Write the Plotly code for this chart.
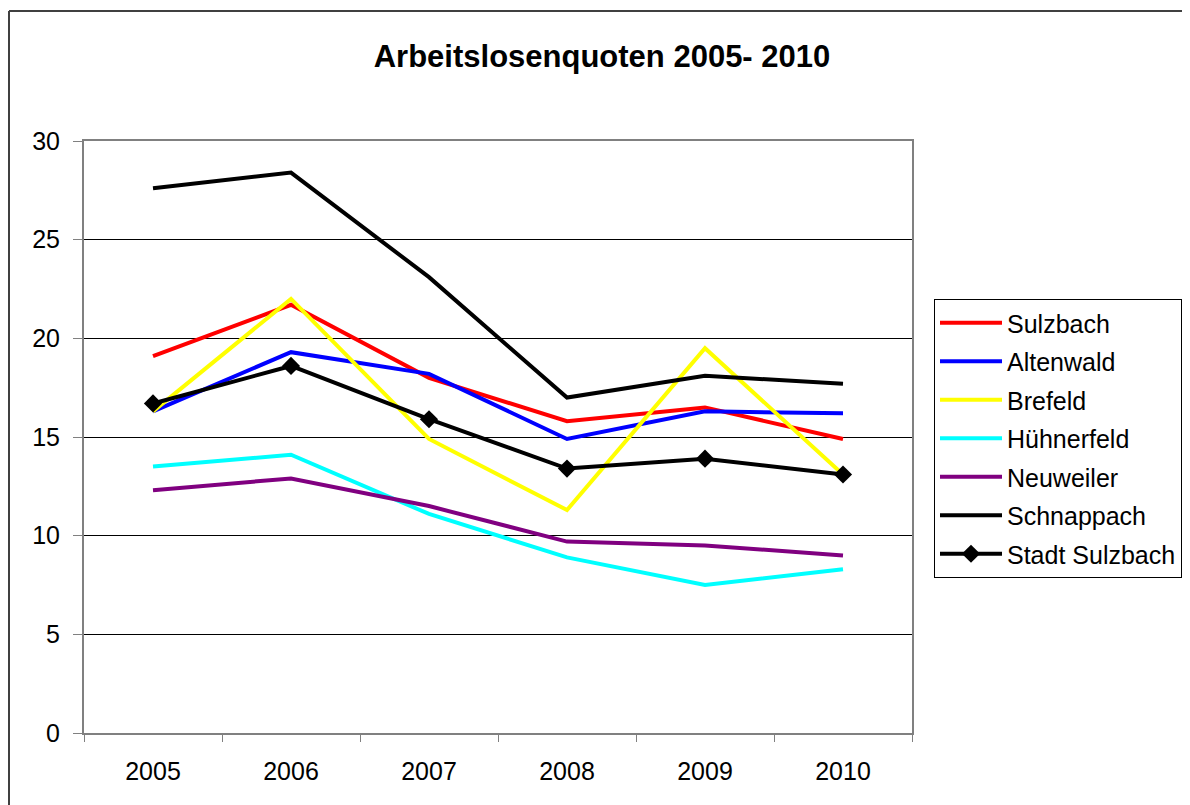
import plotly.graph_objects as go

years = ["2005", "2006", "2007", "2008", "2009", "2010"]
sulzbach = [19.1, 21.7, 18.0, 15.8, 16.5, 14.9]
altenwald = [16.3, 19.3, 18.2, 14.9, 16.3, 16.2]
brefeld = [16.3, 22.0, 14.9, 11.3, 19.5, 13.1]
huehnerfeld = [13.5, 14.1, 11.1, 8.9, 7.5, 8.3]
neuweiler = [12.3, 12.9, 11.5, 9.7, 9.5, 9.0]
schnappach = [27.6, 28.4, 23.1, 17.0, 18.1, 17.7]
stadt_sulzbach = [16.7, 18.6, 15.9, 13.4, 13.9, 13.1]

series = [
    ("Sulzbach", sulzbach, "#FF0000", False),
    ("Altenwald", altenwald, "#0000FF", False),
    ("Brefeld", brefeld, "#FFFF00", False),
    ("Hühnerfeld", huehnerfeld, "#00FFFF", False),
    ("Neuweiler", neuweiler, "#800080", False),
    ("Schnappach", schnappach, "#000000", False),
    ("Stadt Sulzbach", stadt_sulzbach, "#000000", True),
]

FONT = "Liberation Sans, Arial, sans-serif"

fig = go.Figure()
for i, (name, vals, color, markers) in enumerate(series):
    fig.add_trace(go.Scatter(
        x=years, y=vals, name=name,
        mode="lines+markers" if markers else "lines",
        line=dict(color=color, width=4),
        marker=dict(symbol="diamond", size=14, color=color) if markers else None,
        legendgroup=f"g{i}",
        hoverinfo="skip",
    ))

# page has an 8px body offset; target pixel positions are reduced by it
OFF = 8
L, R, T, B = 84 - OFF, 912 - OFF, 141 - OFF, 733 - OFF
W, H = 1190, 805

def px(x):
    return (x - OFF - L) / (R - L)

def py(y):
    return (B - (y - OFF)) / (B - T)

fig.update_layout(
    width=W, height=H,
    margin=dict(l=L, r=W - R, t=T, b=H - B),
    paper_bgcolor="white", plot_bgcolor="white",
    font=dict(family=FONT, size=25, color="black"),
    title=dict(text="<b>Arbeitslosenquoten 2005- 2010</b>",
               font=dict(family=FONT, size=31, color="black"),
               x=px(602), xref="paper", xanchor="center",
               y=1 - (56 - OFF) / H, yref="container", yanchor="middle"),
    showlegend=True,
    legend=dict(x=px(934), y=py(299), xanchor="left", yanchor="top",
                xref="paper", yref="paper",
                bordercolor="#000000", borderwidth=1, bgcolor="white",
                font=dict(family=FONT, size=25, color="black"),
                itemwidth=62, tracegroupgap=3, traceorder="grouped"),
    shapes=[
        dict(type="line", xref="paper", yref="paper",
             x0=px(9), x1=px(1205), y0=py(11), y1=py(11),
             line=dict(color="#404040", width=2)),
        dict(type="line", xref="paper", yref="paper",
             x0=px(9), x1=px(9), y0=py(11), y1=py(820),
             line=dict(color="#404040", width=2)),
    ],
)

fig.update_xaxes(
    type="category", tickson="boundaries", range=[-0.5, 5.5],
    ticks="outside", ticklen=7, tickwidth=1, tickcolor="#808080",
    showline=True, mirror=True, linecolor="#808080", linewidth=2,
    showgrid=False, zeroline=False,
    tickfont=dict(family=FONT, size=25, color="black"),
    ticklabelstandoff=15,
)
fig.update_yaxes(
    range=[0, 30], tickvals=[0, 5, 10, 15, 20, 25, 30],
    ticks="outside", ticklen=9, tickwidth=1, tickcolor="#808080",
    showline=True, mirror=True, linecolor="#808080", linewidth=2,
    showgrid=True, gridcolor="#000000", gridwidth=1, zeroline=False,
    tickfont=dict(family=FONT, size=25, color="black"),
    ticklabelstandoff=8,
)

fig.write_html("out.html")
